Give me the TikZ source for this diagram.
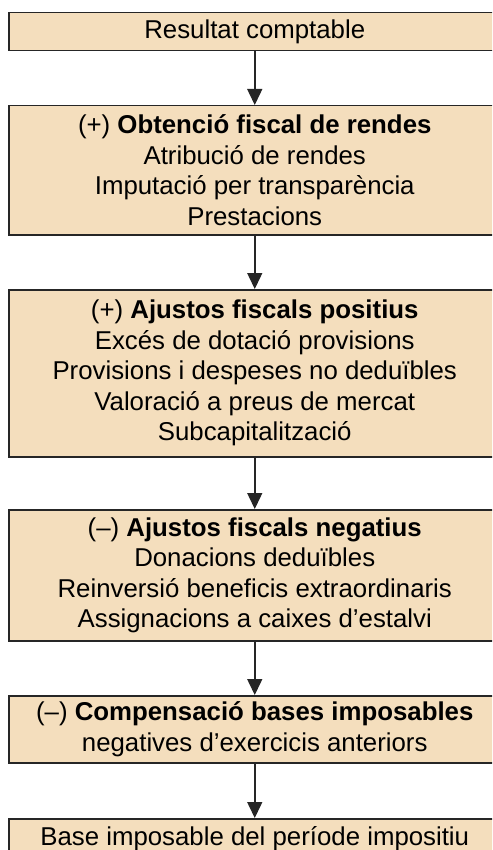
\documentclass[tikz,border=0pt]{standalone}
\usepackage{fontspec}
\setmainfont{Liberation Sans}
\usetikzlibrary{arrows.meta}
\definecolor{boxfill}{HTML}{F4DEBD}
\definecolor{linegray}{HTML}{262626}
\begin{document}
\begin{tikzpicture}[x=1pt,y=-1pt,
  flowbox/.style={draw=linegray, line width=1.5pt, fill=boxfill, minimum width=492pt,
    inner sep=0pt, align=center, font=\fontsize{25.8}{30.5}\selectfont, anchor=north west},
  flowarrow/.style={draw=linegray, line width=1.5pt, -{Triangle[width=15pt,length=16pt]}}]
\useasboundingbox (0,0) rectangle (492,850);
\clip (0,0) rectangle (492,850);
\node[flowbox, minimum height=38pt] (b1) at (8,12) {Resultat comptable};
\node[flowbox, minimum height=129pt] (b2) at (8,105) {(+) \textbf{Obtenció fiscal de rendes}\\Atribució de rendes\\Imputació per transparència\\Prestacions};
\node[flowbox, minimum height=167pt] (b3) at (8,289) {(+) \textbf{Ajustos fiscals positius}\\Excés de dotació provisions\\Provisions i despeses no deduïbles\\Valoració a preus de mercat\\Subcapitalització};
\node[flowbox, minimum height=131pt] (b4) at (8,509) {(–) \textbf{Ajustos fiscals negatius}\\Donacions deduïbles\\Reinversió beneficis extraordinaris\\Assignacions a caixes d’estalvi};
\node[flowbox, minimum height=67pt] (b5) at (8,695) {(–) \textbf{Compensació bases imposables}\\negatives d’exercicis anteriors};
\node[flowbox, minimum height=40pt] (b6) at (8,818) {Base imposable del període impositiu};
\draw[flowarrow] (b1.south) -- (b2.north);
\draw[flowarrow] (b2.south) -- (b3.north);
\draw[flowarrow] (b3.south) -- (b4.north);
\draw[flowarrow] (b4.south) -- (b5.north);
\draw[flowarrow] (b5.south) -- (b6.north);
\end{tikzpicture}
\end{document}
